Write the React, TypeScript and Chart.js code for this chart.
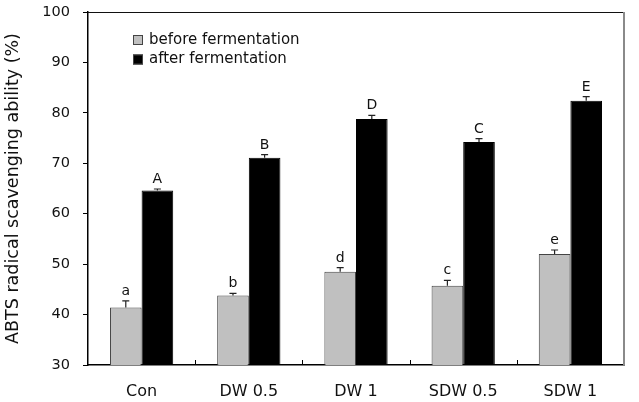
import React, { useEffect, useRef } from "react";
import { Chart, registerables } from "chart.js";

Chart.register(...registerables);

// Treatments and measured ABTS scavenging ability (%)
const categories = ["Con", "DW 0.5", "DW 1", "SDW 0.5", "SDW 1"];
const beforeValues = [41.4, 43.8, 48.5, 45.7, 52.0];
const afterValues = [64.6, 71.1, 78.8, 74.2, 82.4];
const beforeErrors = [1.3, 0.4, 0.8, 1.1, 0.8];
const afterErrors = [0.3, 0.6, 0.7, 0.7, 0.8];
const beforeLetters = ["a", "b", "d", "c", "e"];
const afterLetters = ["A", "B", "D", "C", "E"];
const seriesNames = ["before fermentation", "after fermentation"];
const yTicks = [30, 40, 50, 60, 70, 80, 90, 100];

const FONT = "'DejaVu Sans', sans-serif";
const GRAY = "#c0c0c0";

const errors = [beforeErrors, afterErrors];
const letters = [beforeLetters, afterLetters];

const annotatePlugin = {
  id: "annotate",
  afterDatasetsDraw(chart: any) {
    const { ctx, chartArea } = chart;
    const yScale = chart.scales.y;
    ctx.save();

    // error bars (upper only) and significance letters
    chart.data.datasets.forEach((ds: any, di: number) => {
      const meta = chart.getDatasetMeta(di);
      meta.data.forEach((bar: any, i: number) => {
        const x = bar.x;
        const yTop = yScale.getPixelForValue(ds.data[i] + errors[di][i]);
        ctx.strokeStyle = "#222";
        ctx.lineWidth = 1.2;
        ctx.beginPath();
        ctx.moveTo(x, bar.y);
        ctx.lineTo(x, yTop);
        ctx.moveTo(x - 3.5, yTop);
        ctx.lineTo(x + 3.5, yTop);
        ctx.stroke();
        ctx.fillStyle = "#111";
        ctx.font = `14px ${FONT}`;
        ctx.textAlign = "center";
        ctx.textBaseline = "alphabetic";
        ctx.fillText(letters[di][i], x, yTop - 6);
      });
    });

    // inward tick marks between categories on the x axis
    ctx.strokeStyle = "#000";
    ctx.lineWidth = 1;
    const n = categories.length;
    const step = (chartArea.right - chartArea.left) / n;
    for (let i = 1; i < n; i++) {
      const x = Math.round(chartArea.left + step * i) + 0.5;
      ctx.beginPath();
      ctx.moveTo(x, chartArea.bottom);
      ctx.lineTo(x, chartArea.bottom - 5);
      ctx.stroke();
    }

    // frame: top and right edges
    ctx.strokeStyle = "#111";
    ctx.lineWidth = 1;
    ctx.beginPath();
    ctx.moveTo(chartArea.left, chartArea.top + 0.5);
    ctx.lineTo(chartArea.right, chartArea.top + 0.5);
    ctx.stroke();
    ctx.strokeStyle = "#8a8a8a";
    ctx.lineWidth = 2;
    ctx.beginPath();
    ctx.moveTo(chartArea.right, chartArea.top);
    ctx.lineTo(chartArea.right, chartArea.bottom);
    ctx.stroke();

    // legend inside the plot area
    const lx = chartArea.left + 45;
    const ly = chartArea.top + 28;
    const fills = [GRAY, "#000"];
    seriesNames.forEach((name, k) => {
      const y = ly + k * 19.5;
      ctx.fillStyle = fills[k];
      ctx.fillRect(lx, y - 5, 10, 10);
      ctx.strokeStyle = "#444";
      ctx.lineWidth = 1;
      ctx.strokeRect(lx + 0.5, y - 4.5, 9, 9);
      ctx.fillStyle = "#111";
      ctx.font = `15px ${FONT}`;
      ctx.textAlign = "left";
      ctx.textBaseline = "middle";
      ctx.fillText(name, lx + 16, y);
    });
    ctx.restore();
  },
};

export default function App() {
  const canvasRef = useRef<HTMLCanvasElement | null>(null);

  useEffect(() => {
    document.body.style.margin = "0";
    const canvas = canvasRef.current;
    if (!canvas) return;
    const chart = new Chart(canvas, {
      type: "bar",
      data: {
        labels: categories,
        datasets: [
          {
            label: seriesNames[0],
            data: beforeValues,
            backgroundColor: GRAY,
            borderColor: "#444",
            borderWidth: 1,
            barPercentage: 1,
            categoryPercentage: 0.59,
          },
          {
            label: seriesNames[1],
            data: afterValues,
            backgroundColor: "#000",
            borderColor: "#000",
            borderWidth: 1,
            barPercentage: 1,
            categoryPercentage: 0.59,
          },
        ],
      },
      options: {
        responsive: false,
        animation: false,
        layout: { padding: { top: 12, right: 15, left: 0, bottom: 0 } },
        plugins: {
          legend: { display: false },
          tooltip: { enabled: false },
        },
        scales: {
          x: {
            grid: { display: false },
            border: { display: true, color: "#000", width: 1.5 },
            ticks: {
              color: "#111",
              padding: 9,
              font: { family: FONT, size: 16 },
              maxRotation: 0,
            },
            afterFit: (scale: any) => {
              scale.height = 37;
              scale.paddingLeft = 0;
              scale.paddingRight = 0;
            },
          },
          y: {
            min: 30,
            max: 100,
            afterBuildTicks: (scale: any) => {
              scale.ticks = yTicks.map((v) => ({ value: v }));
            },
            grid: {
              display: true,
              drawOnChartArea: false,
              drawTicks: true,
              tickLength: 5,
              color: "#000",
            },
            border: { display: true, color: "#000", width: 1.5 },
            ticks: {
              color: "#111",
              padding: 13,
              font: { family: FONT, size: 14.5 },
            },
            title: {
              display: true,
              text: "ABTS radical scavenging ability (%)",
              color: "#111",
              font: { family: FONT, size: 17.5 },
              padding: { top: 3, bottom: 0 },
            },
            afterFit: (scale: any) => {
              scale.width = 88;
              scale.paddingTop = 0;
              scale.paddingBottom = 0;
            },
          },
        },
      },
      plugins: [annotatePlugin],
    });
    return () => chart.destroy();
  }, []);

  return (
    <div style={{ width: 639, height: 402, background: "#fff" }}>
      <canvas ref={canvasRef} width={639} height={402} style={{ display: "block" }} />
    </div>
  );
}
